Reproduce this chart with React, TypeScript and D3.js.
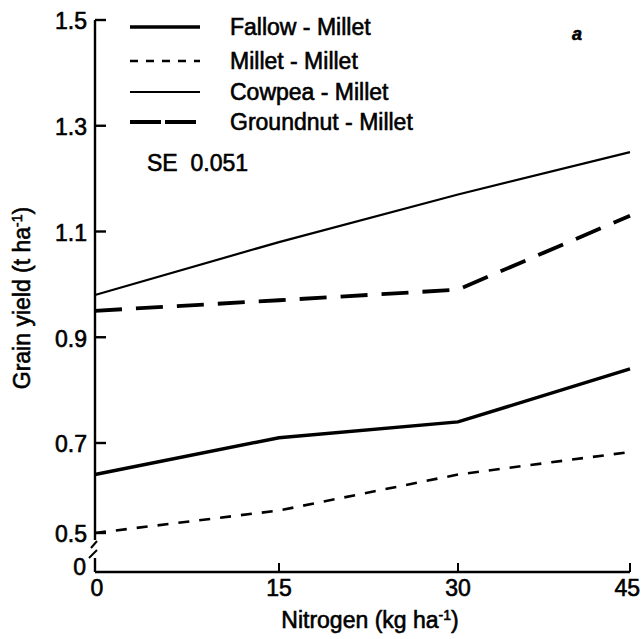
import React from "react";
import * as d3 from "d3";

const nitrogen = [0, 15, 30, 45];
const fallowMillet = [0.63, 0.71, 0.74, 0.84];
const milletMillet = [0.5, 0.55, 0.63, 0.68];
const cowpeaMillet = [0.98, 1.08, 1.17, 1.25];
const groundnutMillet = [0.95, 0.97, 0.99, 1.13];
const yTicks = [0.5, 0.7, 0.9, 1.1, 1.3, 1.5];
const xTicks = [0, 15, 30, 45];
const seriesNames = ["Fallow - Millet", "Millet - Millet", "Cowpea - Millet", "Groundnut - Millet"];

const W = 642;
const H = 639;
const FONT = "'Liberation Sans', Arial, Helvetica, sans-serif";
const FS = 23;

export default function App() {
  // scanned-axis calibration (piecewise linear)
  const x = d3.scaleLinear().domain([0, 15, 30, 45]).range([95, 279, 458, 630]);
  const y = d3.scaleLinear().domain([0, 0.5, 0.7, 1.5]).range([572, 533, 443, 20]);

  const series = [
    { name: seriesNames[0], values: fallowMillet, width: 3.4, dash: "" },
    { name: seriesNames[1], values: milletMillet, width: 2.6, dash: "11 10" },
    { name: seriesNames[2], values: cowpeaMillet, width: 2.2, dash: "" },
    { name: seriesNames[3], values: groundnutMillet, width: 3.8, dash: "27 14" },
  ];

  const line = d3
    .line<number>()
    .x((_, i) => x(nitrogen[i]))
    .y((d) => y(d));

  const legendY = [27, 61, 92, 122];
  const axisX = x(0);
  const axisY = y(0);

  return (
    <svg width={W} height={H} style={{ display: "block", position: "absolute", left: 0, top: 0 }}>
      <rect width={W} height={H} fill="#fff" />
      <g fontFamily={FONT} fill="#000" stroke="#000" strokeWidth={0.6}>
        {/* y axis with break */}
        <line x1={axisX} x2={axisX} y1={y(1.5)} y2={540} stroke="#000" strokeWidth={2.4} />
        <line x1={axisX} x2={axisX} y1={558} y2={axisY} stroke="#000" strokeWidth={2.4} />
        <line x1={axisX - 4} x2={axisX + 2} y1={548} y2={541} stroke="#000" strokeWidth={2} />
        <line x1={axisX - 6} x2={axisX + 2} y1={558} y2={550} stroke="#000" strokeWidth={2} />
        {/* x axis */}
        <line x1={axisX} x2={x(45)} y1={axisY} y2={axisY} stroke="#000" strokeWidth={2.4} />
        {yTicks.map((t) => (
          <g key={"yt" + t}>
            <line x1={axisX} x2={axisX + 11} y1={y(t)} y2={y(t)} stroke="#000" strokeWidth={2.4} />
            <text x={axisX - 8} y={y(t) + 1} dy="0.36em" textAnchor="end" fontSize={FS}>
              {t.toFixed(1)}
            </text>
          </g>
        ))}
        <text x={axisX - 9} y={y(0) - 5} dy="0.36em" textAnchor="end" fontSize={FS}>
          0
        </text>
        {xTicks.map((t) => (
          <g key={"xt" + t}>
            <line x1={x(t)} x2={x(t)} y1={axisY} y2={axisY - 9} stroke="#000" strokeWidth={2} />
            <text
              x={t === 45 ? W - 2 : x(t) + (t === 0 ? 2 : 0)}
              y={axisY + 24}
              textAnchor={t === 45 ? "end" : "middle"}
              fontSize={FS}
            >
              {t}
            </text>
          </g>
        ))}
        {/* axis titles */}
        <text x={370} y={628} textAnchor="middle" fontSize={FS}>
          Nitrogen (kg ha<tspan dy={-8} fontSize={14}>-1</tspan>
          <tspan dy={8}>)</tspan>
        </text>
        <text transform={`translate(30, 298) rotate(-90)`} textAnchor="middle" fontSize={FS}>
          Grain yield (t ha<tspan dy={-8} fontSize={14}>-1</tspan>
          <tspan dy={8}>)</tspan>
        </text>
        {/* series */}
        {series.map((s) => (
          <path
            key={s.name}
            d={line(s.values) || ""}
            fill="none"
            stroke="#000"
            strokeWidth={s.width}
            strokeDasharray={s.dash}
          />
        ))}
        {/* legend */}
        {series.map((s, i) => (
          <g key={"lg" + s.name}>
            <line
              x1={130}
              x2={200}
              y1={legendY[i]}
              y2={legendY[i]}
              stroke="#000"
              strokeWidth={s.width}
              strokeDasharray={i === 3 ? "31 4" : i === 1 ? "8 8" : ""}
            />
            <text x={230} y={legendY[i]} dy="0.36em" fontSize={FS}>
              {s.name}
            </text>
          </g>
        ))}
        <text x={147} y={171} fontSize={FS} style={{ whiteSpace: "pre" }}>
          {"SE  0.051"}
        </text>
        <text x={572} y={40} fontSize={18} fontStyle="italic" fontWeight="bold">
          a
        </text>
      </g>
    </svg>
  );
}
